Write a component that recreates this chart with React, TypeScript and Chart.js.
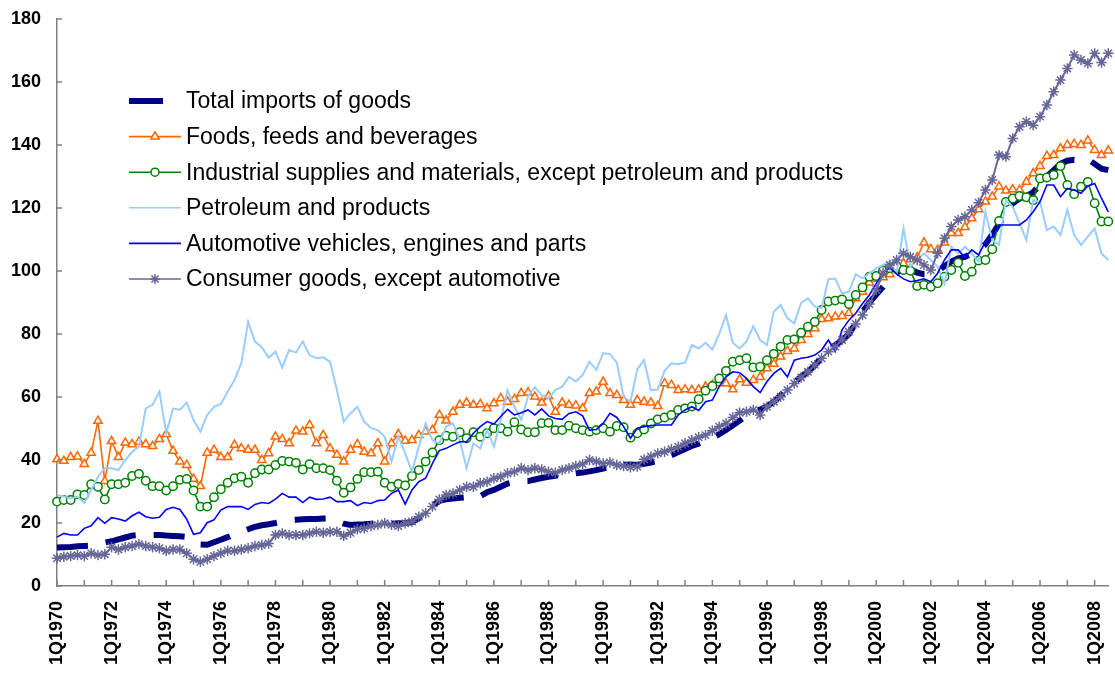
import React, { useEffect, useRef } from 'react';
import { Chart, registerables } from 'chart.js';
import { drawPoint } from 'chart.js/helpers';

Chart.register(...registerables);

const FIRST_YEAR = 1970;
const QUARTER_COUNT = 155;
const categories: string[] = Array.from(
  { length: QUARTER_COUNT },
  (_, i) => `${(i % 4) + 1}Q${FIRST_YEAR + Math.floor(i / 4)}`
);
const labelEvery = 8;
const tickEvery = 4;
const yTickValues = [0, 20, 40, 60, 80, 100, 120, 140, 160, 180];

const seriesNames = [
  'Total imports of goods',
  'Foods, feeds and beverages',
  'Industrial supplies and materials, except petroleum and products',
  'Petroleum and products',
  'Automotive vehicles, engines and parts',
  'Consumer goods, except automotive',
];

const totalImports = [
  12.2, 12.3, 12.4, 12.6, 12.7, 12.8, 13.3, 13.8, 14.2, 14.8,
  15.4, 16.0, 16.2, 16.2, 16.2, 16.2, 16.0, 15.9, 15.8, 15.6,
  14.4, 13.2, 13.1, 13.9, 14.7, 15.5, 16.4, 17.2, 18.0, 18.8,
  19.3, 19.6, 20.0, 20.5, 20.8, 21.0, 21.2, 21.3, 21.3, 21.4,
  21.5, 20.6, 19.8, 19.4, 19.5, 19.6, 19.8, 19.9, 19.9, 19.8,
  19.9, 20.0, 20.3, 21.5, 23.5, 25.5, 27.0, 27.5, 27.8, 28.0,
  28.2, 28.0, 28.5, 29.8, 30.5, 31.5, 32.5, 33.0, 33.2, 33.3,
  33.8, 34.3, 34.7, 35.0, 35.3, 35.5, 35.8, 36.0, 36.4, 36.8,
  37.3, 37.8, 38.2, 38.5, 38.6, 38.4, 38.8, 39.2, 39.8, 40.6,
  41.5, 42.5, 43.5, 44.5, 45.2, 46.0, 47.0, 48.2, 49.5, 51.0,
  52.5, 54.0, 55.2, 56.0, 57.0, 58.5, 60.5, 62.5, 64.5, 66.5,
  68.0, 70.0, 72.5, 74.5, 76.5, 78.0, 80.0, 83.5, 87.0, 90.0,
  92.5, 95.0, 97.5, 99.5, 100.5, 100.5, 99.5, 99.0, 99.0, 100.0,
  101.5, 103.0, 104.0, 104.5, 105.5, 106.5, 108.5, 111.5, 115.0, 119.0,
  121.5, 123.0, 123.8, 125.0, 127.5, 130.0, 132.0, 134.0, 135.0, 135.3,
  135.0, 135.5, 134.0, 132.5, 132.0,
];

const foods = [
  40.2, 39.7, 40.9, 41.1, 38.7, 42.3, 52.4, 33.3, 46.0, 40.9, 45.5, 45.0, 45.8, 45.0, 44.4, 46.6, 48.2, 42.9, 39.5, 38.4, 34.0, 31.7, 42.3, 43.2, 40.9, 40.9, 44.8,
  43.7, 43.2, 43.2, 40.0, 42.1, 47.4, 46.6, 45.3, 49.3, 49.0, 51.1, 45.3, 47.9, 43.7, 41.6, 39.5, 43.2, 45.0, 42.6, 42.1, 45.3, 39.5, 45.3, 48.2, 46.1, 46.3,
  47.9, 49.0, 49.5, 54.3, 52.5, 55.3, 57.5, 58.2, 57.5, 57.7, 56.4, 58.0, 59.6, 58.5, 59.3, 61.2, 61.4, 60.1, 58.2, 60.3, 55.3, 58.2, 57.5, 57.3, 56.4, 61.2,
  61.7, 64.8, 61.2, 60.6, 59.0, 57.5, 59.0, 58.5, 58.2, 57.1, 64.3, 63.8, 62.2, 62.4, 62.2, 62.4, 63.3, 63.8, 64.3, 64.3, 62.4, 65.6, 64.5, 65.4, 66.3, 69.1, 70.5, 72.8, 74.6, 75.4, 78.1, 80.0, 81.8, 84.7, 85.0, 85.5, 85.7, 86.6, 91.3, 93.4, 96.3,
  97.5, 98.0, 98.9, 100.8, 102.4, 103.7, 104.3, 109.0, 106.9, 106.7, 109.0, 112.0, 112.0, 113.9, 116.7, 119.6, 122.0, 123.6, 126.8, 125.5, 125.9, 125.7, 128.3, 131.0, 133.3, 136.5, 136.8, 138.9, 140.0, 140.3, 140.0, 141.4, 138.4, 136.8, 138.2,
];

const industrial = [
  26.8, 27.3, 27.3, 29.1, 28.9, 32.3, 31.5, 27.5, 32.3, 32.3, 32.8, 34.9, 35.6, 33.4, 31.7, 31.7, 30.3, 31.7, 33.7, 34.0, 30.3, 25.2, 25.2, 28.2, 30.7, 32.8, 34.2,
  34.7, 32.8, 35.8, 37.0, 37.0, 38.4, 39.7, 39.5, 39.1, 37.0, 38.7, 37.4, 37.4, 36.8, 33.4, 29.6, 31.3, 34.0, 36.1, 36.1, 36.3, 32.8, 31.5, 32.4, 31.9, 34.9,
  36.8, 39.5, 42.4, 46.3, 47.7, 47.4, 48.8, 46.9, 48.8, 47.4, 48.5, 50.1, 50.1, 49.0, 52.0, 49.7, 48.8, 48.8, 51.7, 51.8, 49.5, 49.5, 50.9, 50.1, 49.5, 49.0,
  49.5, 50.1, 49.0, 50.8, 50.4, 47.1, 48.5, 49.7, 51.6, 52.9, 53.5, 54.3, 55.9, 56.4, 57.0, 59.3, 62.0, 63.5, 65.9, 68.3, 71.2, 71.7, 72.3, 69.4, 69.6, 71.7, 73.7, 76.0, 78.1, 78.3, 80.4, 82.3, 83.9, 87.6, 90.3, 90.6, 91.0, 89.5, 92.4, 94.8, 98.2,
  98.4, 100.1, 100.9, 101.4, 100.3, 100.1, 95.2, 95.6, 95.0, 96.1, 98.2, 100.3, 102.6, 98.4, 99.8, 103.3, 103.5, 106.9, 115.9, 121.9, 123.0, 123.8, 123.4, 122.5, 129.4, 129.7, 130.5, 133.3, 127.3, 124.4, 126.8, 128.3, 121.5, 115.7, 115.7,
];

const petroleum = [
  28.9, 28.4, 27.8, 28.4, 26.4, 30.5, 34.7, 37.4, 37.4, 36.8,
  40.0, 42.6, 44.2, 56.4, 57.5, 61.7, 48.5, 56.4, 55.9, 58.2,
  52.7, 49.0, 54.3, 56.9, 57.8, 61.7, 65.4, 70.7, 83.9, 77.6,
  75.8, 72.5, 74.4, 69.4, 74.9, 74.1, 77.6, 73.3, 72.3, 72.6,
  71.2, 62.2, 52.2, 54.8, 56.9, 52.2, 50.1, 49.5, 47.4, 39.5,
  47.4, 42.1, 36.3, 44.2, 51.6, 46.3, 45.3, 50.6, 51.6, 46.3,
  37.4, 45.3, 43.7, 49.5, 44.2, 52.7, 62.2, 56.9, 52.7, 60.1,
  63.1, 60.6, 59.6, 62.2, 63.3, 66.4, 64.9, 67.0, 71.2, 68.6,
  73.9, 73.7, 70.9, 60.1, 58.5, 68.8, 71.7, 62.2, 62.4, 68.3,
  70.7, 70.4, 70.9, 76.5, 75.4, 77.2, 75.1, 80.0, 86.0, 77.2,
  75.4, 77.6, 82.5, 78.1, 76.5, 87.1, 89.2, 85.0, 83.4, 89.9,
  91.3, 88.7, 88.2, 97.4, 97.6, 92.9, 93.4, 99.0, 97.7, 99.3,
  100.8, 101.9, 103.0, 99.3, 113.5, 101.4, 103.5, 105.6, 103.5, 101.4,
  96.1, 107.7, 105.6, 107.7, 105.6, 103.0, 118.8, 109.8, 108.3, 122.5,
  120.4, 115.1, 109.8, 122.5, 122.0, 113.0, 114.1, 111.4, 119.4, 111.4,
  108.3, 110.9, 113.5, 105.6, 103.5,
];

const automotive = [
  15.5, 16.7, 16.2, 16.2, 18.3, 19.1, 21.7, 19.9, 21.7, 21.3, 20.6, 22.3, 23.4, 22.0, 21.5, 21.8, 24.3, 25.0, 24.3, 21.2, 16.4, 16.9, 20.1, 21.0, 24.1, 25.2, 25.2,
  25.2, 24.3, 25.9, 26.5, 26.2, 27.6, 29.4, 28.2, 28.2, 26.5, 28.2, 27.5, 27.6, 28.2, 26.8, 26.8, 27.1, 25.5, 26.5, 26.2, 27.1, 27.3, 29.4, 30.5, 26.0, 30.5,
  33.1, 34.2, 38.9, 43.0, 43.7, 44.8, 45.8, 45.8, 48.5, 50.6, 52.2, 51.4, 53.8, 56.1, 54.3, 55.0, 55.9, 54.3, 56.2, 54.0, 53.2, 52.9, 54.8, 55.3, 54.0, 49.5,
  49.7, 51.6, 54.8, 53.5, 50.6, 46.9, 50.1, 50.6, 50.9, 51.1, 51.1, 51.1, 54.3, 55.9, 56.9, 55.7, 58.5, 59.0, 63.3, 66.4, 68.0, 67.7, 65.9, 63.3, 61.4, 64.9, 67.5, 69.1, 66.4, 71.7, 72.3, 72.6, 73.3, 74.9, 78.1, 74.4, 81.3, 84.4, 86.6, 89.7, 92.4,
  96.0, 99.5, 101.0, 99.0, 97.5, 96.6, 97.0, 97.5, 96.6, 99.3, 103.5, 106.7, 106.7, 104.3, 106.7, 105.1, 109.3, 110.9, 114.6, 114.6, 114.6, 114.6, 116.2, 118.8, 122.0, 127.3, 127.3, 123.6, 126.2, 125.7, 124.7, 127.0, 127.8, 123.1, 118.8,
];

const consumer = [
  8.8, 9.3, 9.5, 9.8, 9.5, 10.4, 9.8, 10.1, 12.3, 11.6, 12.3, 12.7, 13.3, 12.7, 12.3, 12.0, 11.2, 11.6, 11.6, 10.4, 8.5, 7.7, 8.5, 9.5, 10.4, 11.2, 11.2,
  11.6, 12.0, 12.7, 13.0, 13.5, 16.2, 16.7, 16.2, 16.2, 16.2, 16.7, 17.2, 16.9, 17.2, 17.2, 15.9, 16.9, 18.0, 18.3, 19.0, 19.4, 19.9, 19.4, 19.0, 19.9, 20.5,
  22.0, 23.1, 25.2, 27.5, 28.9, 29.4, 30.5, 31.5, 31.5, 32.6, 33.1, 34.2, 34.7, 35.8, 36.3, 37.4, 36.8, 37.4, 37.0, 36.3, 36.0, 36.8, 37.4, 38.1, 38.7, 40.0, 39.5,
  38.9, 39.2, 38.4, 38.1, 37.7, 37.9, 40.2, 41.1, 42.1, 42.6, 43.4, 44.2, 45.3, 46.3, 47.2, 47.9, 49.3, 50.6, 51.6, 53.5, 55.0, 55.3, 55.9, 54.3, 56.9, 58.5, 60.1, 62.2, 64.3, 66.2, 68.0, 70.2, 72.3, 74.4, 76.0, 78.1, 80.7, 83.2, 86.0, 89.5, 94.0,
  99.3, 101.9, 103.5, 105.6, 104.5, 103.5, 101.9, 100.3, 105.6, 110.4, 114.1, 116.2, 117.2, 119.4, 121.7, 125.7, 128.9, 136.8, 136.3, 142.1, 145.8, 147.4, 146.3, 149.0, 152.7, 156.9, 160.6, 164.3, 168.6, 167.0, 165.9, 169.1, 166.2, 169.1,
];

const FONT = "'Liberation Sans', Arial, Helvetica, sans-serif";
const AXIS_GRAY = '#808080';

const legendMarkerRadius: Record<string, number> = { triangle: 4.8, circle: 4, star: 5 };

const insideLegend = {
  id: 'insideLegend',
  afterDraw(chart: any) {
    const ctx = chart.ctx as CanvasRenderingContext2D;
    ctx.save();
    chart.data.datasets.forEach((d: any, i: number) => {
      const y = 101 + i * 35.6;
      ctx.setLineDash([]);
      ctx.strokeStyle = d.borderColor;
      ctx.lineCap = 'butt';
      ctx.beginPath();
      if (i === 0) {
        ctx.lineWidth = 6;
        ctx.moveTo(129, y);
        ctx.lineTo(163, y);
      } else {
        ctx.lineWidth = 1.6;
        ctx.moveTo(129, y);
        ctx.lineTo(181, y);
      }
      ctx.stroke();
      if (d.pointStyle && d.pointRadius > 0) {
        ctx.fillStyle = '#ffffff';
        ctx.strokeStyle = d.borderColor;
        ctx.lineWidth = 1.5;
        drawPoint(ctx, {
          pointStyle: d.pointStyle,
          radius: legendMarkerRadius[d.pointStyle] || 4,
          borderWidth: 1.5,
          rotation: 0,
        } as any, 155, y);
      }
      ctx.fillStyle = '#000000';
      ctx.font = `23px ${FONT}`;
      ctx.textBaseline = 'middle';
      ctx.textAlign = 'left';
      ctx.fillText(d.label, 186, y + 1);
    });
    ctx.restore();
  },
};

const inwardTicks = {
  id: 'inwardTicks',
  afterDraw(chart: any) {
    const { ctx, chartArea } = chart;
    const x = chart.scales.x;
    const y = chart.scales.y;
    ctx.save();
    ctx.strokeStyle = AXIS_GRAY;
    ctx.lineWidth = 1.5;
    ctx.beginPath();
    yTickValues.forEach((v) => {
      const py = y.getPixelForValue(v);
      ctx.moveTo(chartArea.left, py);
      ctx.lineTo(chartArea.left + 5, py);
    });
    for (let i = 0; i < categories.length; i += tickEvery) {
      const px = x.getPixelForValue(i);
      ctx.moveTo(px, chartArea.bottom);
      ctx.lineTo(px, chartArea.bottom - 6);
    }
    ctx.stroke();
    ctx.restore();
  },
};

export default function App() {
  const canvasRef = useRef<HTMLCanvasElement | null>(null);

  useEffect(() => {
    const canvas = canvasRef.current;
    if (!canvas) return;
    const chart = new Chart(canvas, {
      type: 'line',
      data: {
        labels: categories,
        datasets: [
          {
            label: seriesNames[0],
            data: totalImports,
            borderColor: '#000080',
            borderWidth: 6,
            borderDash: [31, 18],
            borderCapStyle: 'butt',
            pointRadius: 0,
            pointHoverRadius: 0,
            order: 5,
          },
          {
            label: seriesNames[1],
            data: foods,
            borderColor: '#FF6600',
            borderWidth: 1.6,
            pointStyle: 'triangle',
            pointRadius: 4.8,
            pointBorderWidth: 1.5,
            pointBackgroundColor: '#ffffff',
            pointBorderColor: '#FF6600',
            order: 4,
          },
          {
            label: seriesNames[2],
            data: industrial,
            borderColor: '#008000',
            borderWidth: 1.6,
            pointStyle: 'circle',
            pointRadius: 4.2,
            pointBorderWidth: 1.5,
            pointBackgroundColor: '#ffffff',
            pointBorderColor: '#008000',
            order: 3,
          },
          {
            label: seriesNames[3],
            data: petroleum,
            borderColor: '#99CCFF',
            borderWidth: 2,
            pointRadius: 0,
            pointHoverRadius: 0,
            order: 2,
          },
          {
            label: seriesNames[4],
            data: automotive,
            borderColor: '#0000FF',
            borderWidth: 1.6,
            pointRadius: 0,
            pointHoverRadius: 0,
            order: 1,
          },
          {
            label: seriesNames[5],
            data: consumer,
            borderColor: '#666699',
            borderWidth: 2,
            pointStyle: 'star',
            pointRadius: 5.2,
            pointBorderWidth: 1.5,
            pointBorderColor: '#666699',
            pointBackgroundColor: '#666699',
            order: 0,
          },
        ],
      },
      options: {
        responsive: false,
        animation: false,
        devicePixelRatio: 1,
        events: [],
        layout: { padding: { top: 19, right: 1.6, left: 0, bottom: 0 } },
        elements: { line: { tension: 0 } },
        plugins: {
          legend: { display: false },
          tooltip: { enabled: false },
          title: { display: false },
        },
        scales: {
          x: {
            type: 'category',
            offset: false,
            grid: { display: false, drawTicks: false, tickLength: 0 },
            border: { display: true, color: AXIS_GRAY, width: 1.5 },
            ticks: {
              autoSkip: false,
              minRotation: 90,
              maxRotation: 90,
              padding: 15,
              color: '#000000',
              font: { family: FONT, size: 18, weight: 'bold' },
              callback: (_v: any, index: number) => (index % labelEvery === 0 ? categories[index] : ''),
            },
            afterFit: (scale: any) => {
              scale.height = 89;
              scale.paddingLeft = 0;
              scale.paddingRight = 0;
            },
          },
          y: {
            min: 0,
            max: 180,
            grid: { display: false, drawTicks: false, tickLength: 0 },
            border: { display: true, color: AXIS_GRAY, width: 1.5 },
            ticks: {
              stepSize: 20,
              padding: 16,
              color: '#000000',
              font: { family: FONT, size: 18, weight: 'bold' },
            },
            afterFit: (scale: any) => {
              scale.width = 57;
              scale.paddingTop = 0;
              scale.paddingBottom = 0;
            },
          },
        },
      } as any,
      plugins: [inwardTicks, insideLegend],
    });
    return () => chart.destroy();
  }, []);

  return (
    <div style={{ position: 'absolute', left: 0, top: 0, width: 1115, height: 675, background: '#ffffff' }}>
      <canvas ref={canvasRef} width={1115} height={675} style={{ display: 'block' }} />
    </div>
  );
}
